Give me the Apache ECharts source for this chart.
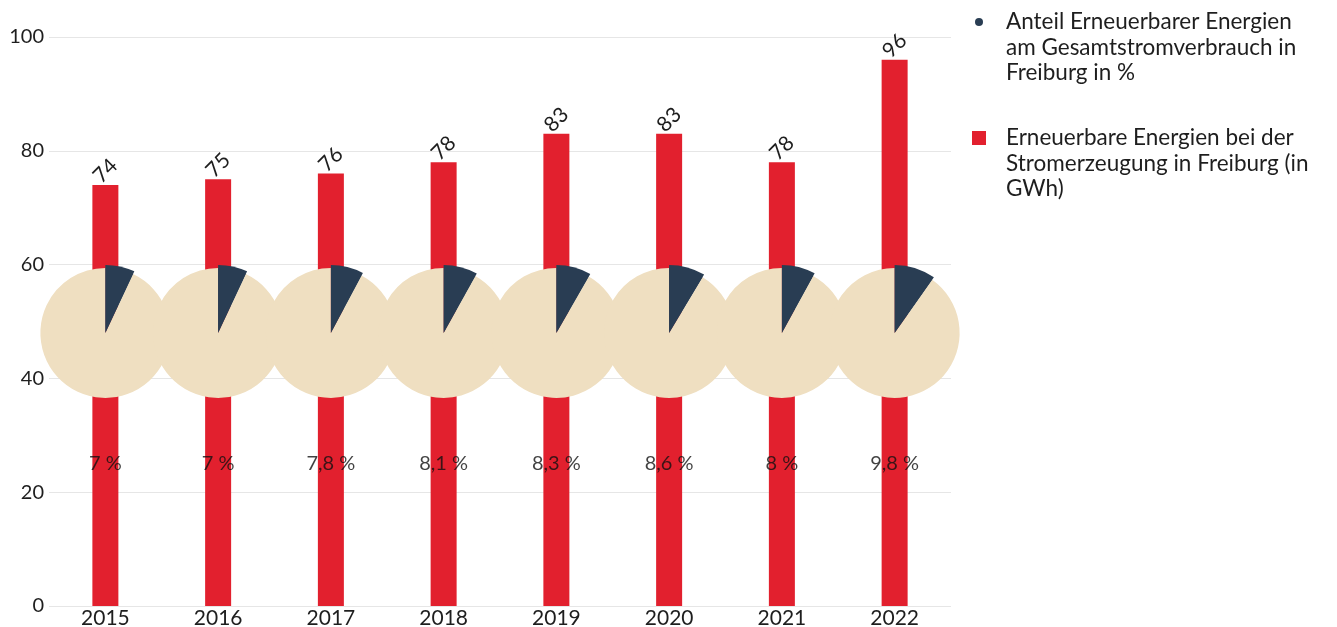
<!DOCTYPE html>
<html>
<head>
<meta charset="utf-8">
<script src="https://cdn.jsdelivr.net/npm/echarts@6/dist/echarts.min.js"></script>
<style>
  html, body { margin: 0; padding: 0; background: #fff; }
  #chart { width: 1337px; height: 627px; }
</style>
</head>
<body>
<div id="chart"></div>
<script>
// Renewable energy in Freiburg, 2015–2022
const years = ['2015', '2016', '2017', '2018', '2019', '2020', '2021', '2022'];
// Renewable electricity generation (GWh)
const generationGWh = [74, 75, 76, 78, 83, 83, 78, 96];
// Share of renewables in total electricity consumption (%)
const sharePercent = [7, 7, 7.8, 8.1, 8.3, 8.6, 8, 9.8];
const yTicks = { min: 0, max: 100, interval: 20 };

const BAR_NAME = 'Erneuerbare Energien bei der Stromerzeugung in Freiburg (in GWh)';
const SHARE_NAME = 'Anteil Erneuerbarer Energien am Gesamtstromverbrauch in Freiburg in %';
const REST_NAME = 'Rest';

const FONT = 'Lato, "Noto Sans", sans-serif';
const TEXT = '#1e1e1e';
const RED = '#e2202e';
const NAVY = '#293d53';
const BEIGE = '#efdfc1';

// vertical levels (in axis units) where the pies and their captions sit
const PIE_LEVEL = 48;
const CAPTION_LEVEL = 25;

// legend text is wrapped over three lines; two leading blank lines keep the
// marker level with the first line
const legendLabel = {
  [SHARE_NAME]: '\n\nAnteil Erneuerbarer Energien\nam Gesamtstromverbrauch in\nFreiburg in %',
  [BAR_NAME]: '\n\nErneuerbare Energien bei der\nStromerzeugung in Freiburg (in\nGWh)'
};
const LINE_H = 25.5;

const chart = echarts.init(document.getElementById('chart'), null, { renderer: 'canvas' });

const fmtPct = v => String(v).replace('.', ',') + ' %';

const legendText = padLeft => ({
  color: TEXT, fontFamily: FONT, fontSize: 22.5, lineHeight: LINE_H,
  padding: [0, 0, 0, padLeft]
});

const baseOption = {
  animation: false,
  grid: { left: 49, right: 386, top: 37, bottom: 21, containLabel: false, outerBoundsMode: 'none' },
  xAxis: {
    type: 'category',
    data: years,
    axisLine: { show: false },
    axisTick: { show: false },
    axisLabel: { color: TEXT, fontFamily: FONT, fontSize: 21, margin: 2 }
  },
  yAxis: {
    type: 'value',
    min: yTicks.min, max: yTicks.max, interval: yTicks.interval,
    axisLine: { show: false },
    axisTick: { show: false },
    splitLine: { lineStyle: { color: '#e6e6e6', width: 1 } },
    axisLabel: { color: TEXT, fontFamily: FONT, fontSize: 20, margin: 5 }
  },
  legend: [
    {
      orient: 'vertical', left: 975, top: 22 - 2.5 * LINE_H,
      padding: 0, itemWidth: 8, itemHeight: 8,
      selectedMode: false,
      data: [{ name: SHARE_NAME, icon: 'circle' }],
      formatter: n => legendLabel[n] || n,
      textStyle: legendText(18)
    },
    {
      orient: 'vertical', left: 972, top: 138 - 2.5 * LINE_H,
      padding: 0, itemWidth: 14, itemHeight: 14,
      selectedMode: false,
      data: [{ name: BAR_NAME, icon: 'rect' }],
      formatter: n => legendLabel[n] || n,
      textStyle: legendText(15)
    }
  ],
  series: [
    {
      name: BAR_NAME,
      type: 'bar',
      data: generationGWh,
      barWidth: 26,
      itemStyle: { color: RED },
      emphasis: { disabled: true },
      label: {
        show: true, position: 'top', rotate: 45, distance: 14,
        align: 'center', verticalAlign: 'middle',
        color: TEXT, fontFamily: FONT, fontSize: 21
      },
      z: 1
    }
  ]
};

chart.setOption(baseOption);

// pies placed at each year's position on the value scale
const pieSeries = [];
years.forEach((y, i) => {
  const c = chart.convertToPixel({ xAxisIndex: 0, yAxisIndex: 0 }, [i, PIE_LEVEL]);
  pieSeries.push({
    type: 'pie', name: y, center: c, radius: 65, startAngle: 90, clockwise: true,
    data: [
      { name: SHARE_NAME, value: sharePercent[i], itemStyle: { color: NAVY } },
      { name: REST_NAME, value: 100 - sharePercent[i], itemStyle: { color: BEIGE } }
    ],
    label: { show: false }, labelLine: { show: false },
    emphasis: { disabled: true }, silent: true, z: 3
  });
  // the share slice stands slightly out of the disc
  pieSeries.push({
    type: 'pie', name: y + ' Anteil', center: c, radius: 68, startAngle: 90, clockwise: true,
    data: [
      { name: SHARE_NAME, value: sharePercent[i], itemStyle: { color: NAVY } },
      { name: REST_NAME, value: 100 - sharePercent[i], itemStyle: { color: 'rgba(0,0,0,0)' } }
    ],
    label: { show: false }, labelLine: { show: false },
    emphasis: { disabled: true }, silent: true, z: 4
  });
});

chart.setOption({
  series: baseOption.series.concat(pieSeries, [{
    name: 'Anteil-Beschriftung',
    type: 'scatter',
    symbolSize: 0,
    data: sharePercent.map((p, i) => [i, CAPTION_LEVEL, p]),
    label: {
      show: true, position: 'inside',
      formatter: p => fmtPct(p.data[2]),
      color: '#111', fontFamily: FONT, fontSize: 20
    },
    silent: true, z: 6
  }])
});
</script>
</body>
</html>
